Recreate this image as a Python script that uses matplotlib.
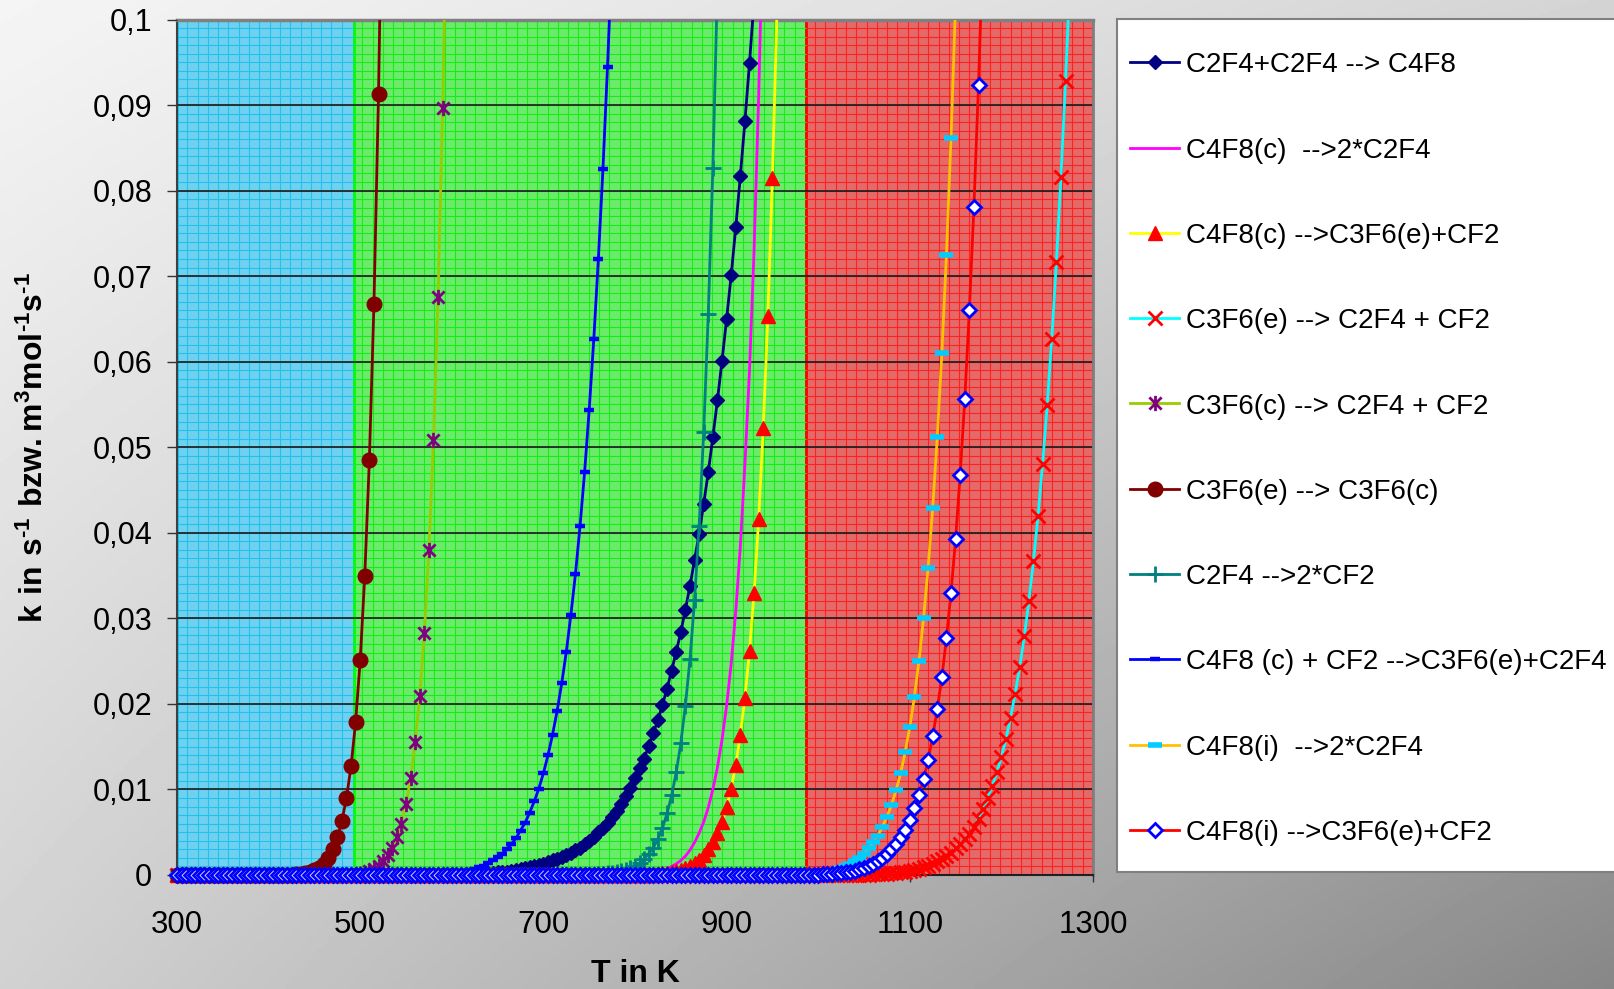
import numpy as np
import matplotlib.pyplot as plt
from matplotlib.path import Path
from matplotlib.ticker import FuncFormatter

plt.rcParams['font.family'] = ['Liberation Sans', 'DejaVu Sans']
plt.rcParams['mathtext.fontset'] = 'custom'
plt.rcParams['mathtext.rm'] = 'Liberation Sans:bold'
plt.rcParams['mathtext.bf'] = 'Liberation Sans:bold'

# temperature grid of the table (K)
T_START, T_END, T_STEP = 300, 1300, 5
temps = np.arange(T_START, T_END + 1, T_STEP)

labels = [
    "C2F4+C2F4 --> C4F8",
    "C4F8(c)  -->2*C2F4",
    "C4F8(c) -->C3F6(e)+CF2",
    "C3F6(e) --> C2F4 + CF2",
    "C3F6(c) --> C2F4 + CF2",
    "C3F6(e) --> C3F6(c)",
    "C2F4 -->2*CF2",
    "C4F8 (c) + CF2 -->C3F6(e)+C2F4",
    "C4F8(i)  -->2*C2F4",
    "C4F8(i) -->C3F6(e)+CF2",
]

# k values; zero below the first listed temperature
t0_c2f4_c4f8 = 630
k_c2f4_c4f8 = [0.0001, 0.00015, 0.0002, 0.00025, 0.0003, 0.00035, 0.0004, 0.0005, 0.0006, 0.0007,
               0.0008, 0.0009, 0.0010, 0.0012, 0.0013, 0.0015, 0.0017, 0.0019, 0.0021, 0.0023,
               0.0026, 0.0029, 0.0032, 0.0036, 0.0040, 0.0045, 0.0050, 0.0055, 0.0061, 0.0068,
               0.0075, 0.0083, 0.0092, 0.0102, 0.0113, 0.0125, 0.0136, 0.0151, 0.0166, 0.0181,
               0.0199, 0.0218, 0.0239, 0.0261, 0.0284, 0.0310, 0.0338, 0.0368, 0.0399, 0.0434,
               0.0471, 0.0512, 0.0555, 0.0601, 0.0650, 0.0701, 0.0757, 0.0817, 0.0881, 0.0949,
               0.1022]

t0_c4f8c_c2f4 = 820
k_c4f8c_c2f4 = [0.00025, 0.00035, 0.0005, 0.0007, 0.0010, 0.0013, 0.0017, 0.0022, 0.0029, 0.0038,
                0.0049, 0.0062, 0.0079, 0.0100, 0.0126, 0.0158, 0.0198, 0.0247, 0.0308, 0.0384,
                0.048, 0.059, 0.073, 0.091, 0.113]

t0_c4f8c_c3f6e = 825
k_c4f8c_c3f6e = [0.00013, 0.00018, 0.00025, 0.00035, 0.00045, 0.0006, 0.0008, 0.0011, 0.0014, 0.0018,
                 0.0023, 0.0030, 0.0038, 0.0049, 0.0062, 0.0079, 0.0101, 0.0129, 0.0164, 0.0207,
                 0.0262, 0.0330, 0.0416, 0.0522, 0.0653, 0.0815, 0.101]

t0_c3f6e_c2f4 = 1060
k_c3f6e_c2f4 = [0.00008, 0.0001, 0.00012, 0.00016, 0.0002, 0.00026, 0.00033, 0.0004, 0.0005, 0.0006,
                0.00075, 0.0009, 0.0011, 0.0013, 0.0016, 0.0019, 0.0022, 0.0026, 0.0031, 0.0036,
                0.0042, 0.0048, 0.0056, 0.0066, 0.0077, 0.0090, 0.0104, 0.0120, 0.0138, 0.0159,
                0.0184, 0.0212, 0.0243, 0.0279, 0.0320, 0.0367, 0.0420, 0.0481, 0.0549, 0.0627,
                0.0716, 0.0816, 0.0928, 0.105]

t0_c3f6c_c2f4 = 495
k_c3f6c_c2f4 = [0.0001, 0.00017, 0.00028, 0.00045, 0.0007, 0.0011, 0.0016, 0.0023, 0.0031, 0.0044,
                0.0060, 0.0083, 0.0113, 0.0155, 0.0209, 0.0283, 0.0380, 0.0508, 0.0676, 0.0896,
                0.118]

t0_c3f6e_c3f6c = 425
k_c3f6e_c3f6c = [0.00005, 0.00008, 0.00013, 0.00022, 0.00035, 0.00055, 0.00085, 0.0013, 0.0020, 0.0030,
                 0.0044, 0.0063, 0.0090, 0.0127, 0.0179, 0.0251, 0.035, 0.0485, 0.0667, 0.0913,
                 0.124]

t0_c2f4_cf2 = 760
k_c2f4_cf2 = [0.0001, 0.00013, 0.00018, 0.00025, 0.00033, 0.00045, 0.0006, 0.0008, 0.00105, 0.0014,
              0.0019, 0.0025, 0.0032, 0.0042, 0.0055, 0.0072, 0.0093, 0.0120, 0.0154, 0.0198,
              0.0252, 0.0321, 0.0408, 0.0518, 0.0656, 0.0827, 0.104]

t0_c4f8c_cf2 = 600
k_c4f8c_cf2 = [0.0002, 0.00025, 0.00033, 0.00043, 0.00055, 0.0007, 0.0009, 0.0011, 0.0014, 0.0017,
               0.0021, 0.0025, 0.0030, 0.0036, 0.0043, 0.0052, 0.0061, 0.0073, 0.0086, 0.0101,
               0.0119, 0.0140, 0.0164, 0.0192, 0.0224, 0.0261, 0.0304, 0.0352, 0.0408, 0.0471,
               0.0544, 0.0626, 0.0720, 0.0825, 0.0945, 0.108]

t0_c4f8i_c2f4 = 985
k_c4f8i_c2f4 = [0.00008, 0.0001, 0.00015, 0.0002, 0.00026, 0.00035, 0.00045, 0.0006, 0.0008, 0.0010,
                0.0013, 0.0016, 0.0020, 0.0025, 0.0031, 0.0038, 0.0046, 0.0056, 0.0068, 0.0082,
                0.0099, 0.0119, 0.0144, 0.0173, 0.0208, 0.0250, 0.0300, 0.0359, 0.0429, 0.0512,
                0.0610, 0.0725, 0.0862, 0.102]

t0_c4f8i_c3f6e = 1005
k_c4f8i_c3f6e = [0.00008, 0.0001, 0.00013, 0.00018, 0.00023, 0.0003, 0.0004, 0.0005, 0.00065, 0.0008,
                 0.0010, 0.0013, 0.0016, 0.0020, 0.0024, 0.0030, 0.0036, 0.0044, 0.0053, 0.0064,
                 0.0078, 0.0093, 0.0112, 0.0134, 0.0162, 0.0194, 0.0231, 0.0277, 0.0330, 0.0393,
                 0.0468, 0.0556, 0.0660, 0.0781, 0.0924, 0.109]

# temperature ranges of the coloured zones
zone_edges = [300, 493, 987, 1300]


def series(t0, vals):
    n0 = (t0 - T_START) // T_STEP
    y = np.array([0.0] * n0 + list(vals))
    return temps[:len(y)], y


star = Path([(0, -1), (0, 1), (-0.8, -0.8), (0.8, 0.8), (-0.8, 0.8), (0.8, -0.8)],
            [Path.MOVETO, Path.LINETO] * 3)

styles = [
    dict(color='#000080', lw=2, marker='D', ms=7.4, mfc='#000080', mec='#000080'),
    dict(color='#ff00ff', lw=2, marker=None),
    dict(color='#ffff00', lw=2, marker='^', ms=10.5, mfc='#ff0000', mec='#ff0000'),
    dict(color='#00ffff', lw=2, marker='x', ms=9.5, mec='#ff0000', mew=2),
    dict(color='#99cc00', lw=2, marker=star, ms=11, mfc='none', mec='#800080', mew=2),
    dict(color='#800000', lw=2, marker='o', ms=10.5, mfc='#800000', mec='#800000'),
    dict(color='#008080', lw=2, marker='+', ms=11, mec='#008080', mew=2),
    dict(color='#0000ff', lw=2, marker='_', ms=7, mec='#0000ff', mew=3.2),
    dict(color='#ffc000', lw=2, marker='_', ms=10.5, mec='#00ccff', mew=4),
    dict(color='#ff0000', lw=2, marker='D', ms=7.4, mfc='white', mec='#0000ff', mew=2),
]
marker_keys = ('marker', 'ms', 'mfc', 'mec', 'mew')

data = [
    series(t0_c2f4_c4f8, k_c2f4_c4f8),
    series(t0_c4f8c_c2f4, k_c4f8c_c2f4),
    series(t0_c4f8c_c3f6e, k_c4f8c_c3f6e),
    series(t0_c3f6e_c2f4, k_c3f6e_c2f4),
    series(t0_c3f6c_c2f4, k_c3f6c_c2f4),
    series(t0_c3f6e_c3f6c, k_c3f6e_c3f6c),
    series(t0_c2f4_cf2, k_c2f4_cf2),
    series(t0_c4f8c_cf2, k_c4f8c_cf2),
    series(t0_c4f8i_c2f4, k_c4f8i_c2f4),
    series(t0_c4f8i_c3f6e, k_c4f8i_c3f6e),
]

W, H = 1614, 989
fig = plt.figure(figsize=(W / 100, H / 100), dpi=100)

# grey slide background
bg = fig.add_axes([0, 0, 1, 1], zorder=-10)
xx, yy = np.meshgrid(np.linspace(0, 1, 300), np.linspace(0, 1, 300))
shade = 0.96 - 0.13 * xx - 0.14 * yy - 0.16 * xx * yy
bg.imshow(shade, extent=[0, 1, 0, 1], aspect='auto', cmap='gray', vmin=0, vmax=1)
bg.axis('off')

ax = fig.add_axes([177 / W, 1 - 875 / H, 916 / W, 855.5 / H])
ax.set_xlim(300, 1300)
ax.set_ylim(0, 0.1)

zone_face = ['#70d0f0', '#6cea6c', '#e46a6a']
zone_line = ['#22c2ee', '#14ee14', '#ff2020']
zone_edge = ['#00ccff', '#00ff00', '#ff0000']
fine_x = np.arange(300, 1300, 1000 / 89)
fine_y = np.arange(0.001, 0.1, 0.001)
for i in range(3):
    x0, x1 = zone_edges[i], zone_edges[i + 1]
    ax.axvspan(x0, x1, facecolor=zone_face[i], edgecolor=zone_edge[i], lw=2, zorder=0)
    xs = fine_x[(fine_x > x0 + 2) & (fine_x < x1 - 2)]
    ax.vlines(xs, 0, 0.1, colors=zone_line[i], lw=0.8, zorder=0.5)
    ax.hlines(fine_y, x0, x1, colors=zone_line[i], lw=0.8, zorder=0.5)

yticks = np.arange(0, 0.101, 0.01)
ax.hlines(yticks[1:-1], 300, 1300, colors='#1a1a1a', lw=1.2, zorder=1)

for i, ((x, y), st) in enumerate(zip(data, styles)):
    line_st = {k: v for k, v in st.items() if k not in marker_keys}
    ax.plot(x, y, label=labels[i], zorder=2 + i, **line_st)
    if st.get('marker') is not None:
        # markers are not cut at the axis edge, as in the original
        inside = y <= 0.1
        mk = {k: v for k, v in st.items() if k in marker_keys}
        ax.plot(x[inside], y[inside], ls='none', zorder=2 + i, clip_on=False, **mk)

ax.set_yticks(yticks)
ax.set_xticks(range(300, 1301, 200))
ax.yaxis.set_major_formatter(FuncFormatter(
    lambda v, p: f"{v:.2f}".rstrip('0').rstrip('.').replace('.', ',')))
ax.tick_params(axis='y', direction='out', length=7, width=1, pad=11, labelsize=22, colors='#333333',
               labelcolor='black')
ax.tick_params(axis='x', direction='out', length=5, width=1, pad=20, labelsize=22.5, colors='#333333',
               labelcolor='black')
for side, col, lw in [('left', '#404040', 1.5), ('bottom', '#202020', 1.5),
                      ('top', '#808080', 2.5), ('right', '#808080', 2)]:
    ax.spines[side].set_color(col)
    ax.spines[side].set_linewidth(lw)
    ax.spines[side].set_zorder(1.5)

fig.text(635 / W, 1 - 974 / H, 'T in K', fontsize=23, fontweight='bold', ha='center', va='center')
fig.text(34 / W, 1 - 447 / H,
         r'$\mathbf{k\ in\ s^{\text{-}1}\ bzw.m^{3}mol^{\text{-}1}s^{\text{-}1}}$',
         fontsize=23, rotation=90, ha='center', va='center')

# legend box, drawn in figure pixel units
lg = fig.add_axes([1117 / W, 1 - 872 / H, (1650 - 1117) / W, 853 / H], zorder=5)
lg.set_xlim(1117, 1650)
lg.set_ylim(872, 19)
lg.set_facecolor('white')
lg.set_xticks([])
lg.set_yticks([])
for s in lg.spines.values():
    s.set_color('#808080')
    s.set_linewidth(1.5)
for i, st in enumerate(styles):
    yc = 62.3 + i * 85.3
    line_st = {k: v for k, v in st.items() if k not in marker_keys}
    lg.plot([1130, 1179], [yc, yc], **line_st)
    if st.get('marker') is not None:
        mk = {k: v for k, v in st.items() if k in marker_keys}
        lg.plot([1154.5], [yc], ls='none', **mk)
    lg.text(1186, yc + 10, labels[i], fontsize=20, va='baseline', ha='left')

fig.savefig('out.png', dpi=100)
